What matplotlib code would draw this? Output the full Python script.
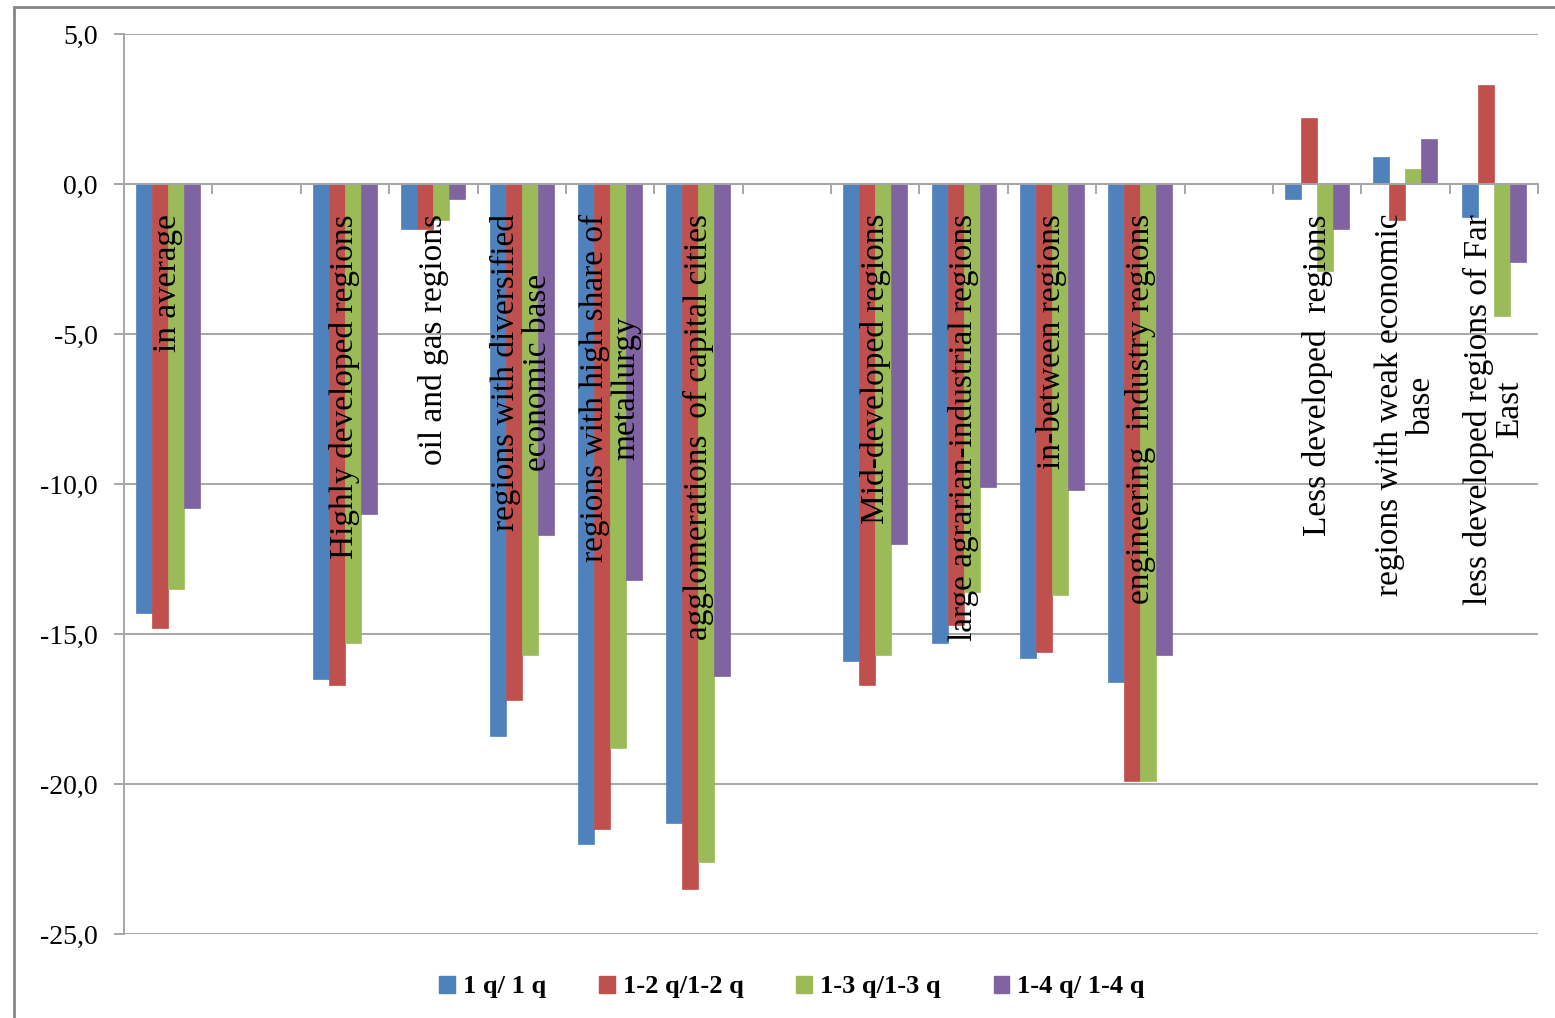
import numpy as np
import matplotlib
matplotlib.use("Agg")
import matplotlib.pyplot as plt
from matplotlib.patches import Patch, Rectangle
from matplotlib.ticker import FuncFormatter, FixedLocator

plt.rcParams['font.family'] = ['Liberation Serif', 'DejaVu Serif']

categories = [
    "in average",
    "",
    "Highly developed regions",
    "oil and gas regions",
    "regions with diversified\neconomic base",
    "regions with high share of\nmetallurgy",
    "agglomerations  of capital cities",
    "",
    "Mid-developed regions",
    "large agrarian-industrial regions",
    "in-between regions",
    "engineering  industry regions",
    "",
    "Less developed  regions",
    "regions with weak economic\nbase",
    "less developed regions of Far\nEast",
]

nan = np.nan
q1 = [-14.3, nan, -16.5, -1.5, -18.4, -22.0, -21.3, nan, -15.9, -15.3, -15.8, -16.6, nan, -0.5, 0.9, -1.1]
q12 = [-14.8, nan, -16.7, -1.5, -17.2, -21.5, -23.5, nan, -16.7, -14.7, -15.6, -19.9, nan, 2.2, -1.2, 3.3]
q13 = [-13.5, nan, -15.3, -1.2, -15.7, -18.8, -22.6, nan, -15.7, -13.6, -13.7, -19.9, nan, -2.9, 0.5, -4.4]
q14 = [-10.8, nan, -11.0, -0.5, -11.7, -13.2, -16.4, nan, -12.0, -10.1, -10.2, -15.7, nan, -1.5, 1.5, -2.6]

series_names = ["1 q/ 1 q", "1-2 q/1-2 q", "1-3 q/1-3 q", "1-4 q/ 1-4 q"]
series_vals = [q1, q12, q13, q14]
colors = ["#4F81BD", "#C0504D", "#9BBB59", "#8064A2"]

yticks = [5.0, 0.0, -5.0, -10.0, -15.0, -20.0, -25.0]

W, H = 1555, 1018
fig = plt.figure(figsize=(W / 100, H / 100), dpi=100)
ax = fig.add_axes([124 / W, 1 - 934 / H, (1538 - 124) / W, 900 / H])

n = len(categories)
x = np.arange(n)
bw = 0.181
for i, (vals, c) in enumerate(zip(series_vals, colors)):
    ax.bar(x + (i - 1.5) * bw, vals, width=bw, color=c, zorder=2,
           edgecolor=c, linewidth=0.5)

ax.set_xlim(-0.5, n - 0.5)
ax.set_ylim(min(yticks), max(yticks))

grid_c = "#A6A6A6"
for yv in yticks:
    ax.axhline(yv, color=grid_c, lw=1.4, zorder=0)

# spines
for s in ["top", "right"]:
    ax.spines[s].set_visible(False)
ax.spines["left"].set_color(grid_c)
ax.spines["left"].set_linewidth(1.4)
ax.spines["bottom"].set_position(("data", 0))
ax.spines["bottom"].set_color(grid_c)
ax.spines["bottom"].set_linewidth(1.4)
ax.spines["bottom"].set_zorder(2.5)

ax.xaxis.set_major_locator(FixedLocator(np.arange(n + 1) - 0.5))
ax.tick_params(axis="x", which="major", length=7, width=1.4, color=grid_c,
               direction="out", labelbottom=False)

ax.yaxis.set_major_locator(FixedLocator(yticks))
ax.yaxis.set_major_formatter(FuncFormatter(lambda v, _: f"{v:.1f}".replace(".", ",")))
ax.tick_params(axis="y", length=7, width=1.4, color=grid_c, pad=12, labelsize=20)

# category labels (rotated, starting just below the zero axis)
for xi, lab in zip(x, categories):
    if lab:
        ax.text(xi, -1.0, lab, rotation=90, ha="center", va="top",
                multialignment="center", fontsize=24, linespacing=1.05,
                zorder=4)

# outer border
fig.add_artist(Rectangle((14 / W, -0.01), 1.01, 1 - 7 / H + 0.01,
                         transform=fig.transFigure, fill=False,
                         edgecolor="#868686", lw=2))

handles = [Patch(facecolor=c, edgecolor=c) for c in colors]
fig.legend(handles, series_names, loc="center", bbox_to_anchor=(792 / W, 1 - 987 / H),
           ncol=4, frameon=False, prop={"weight": "bold", "size": 19},
           handlelength=0.6, handleheight=0.6, handletextpad=0.3, columnspacing=2.0)

fig.savefig("out.png", dpi=100)
